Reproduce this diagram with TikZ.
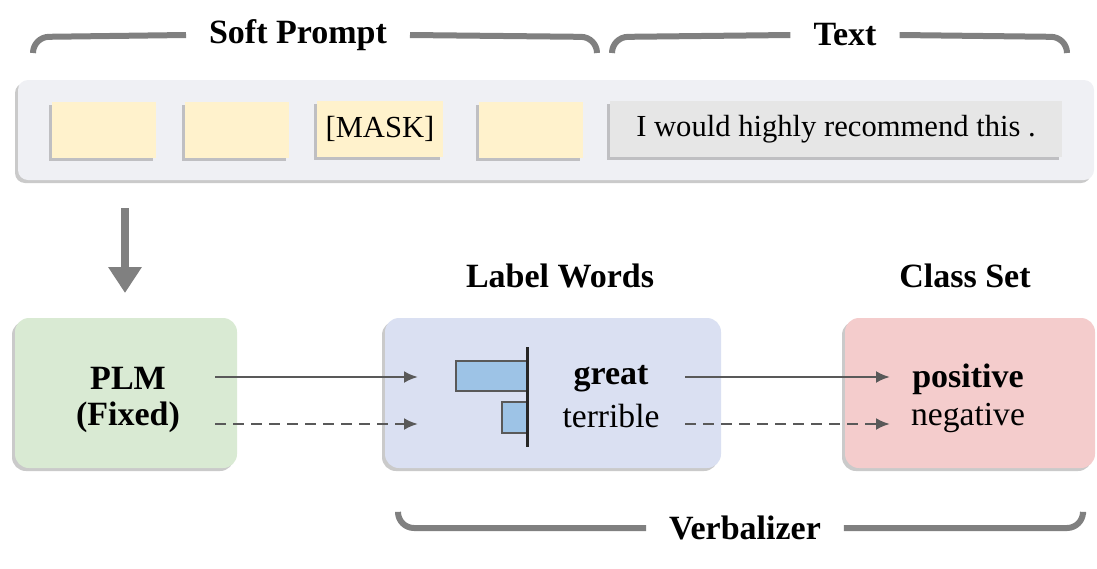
\documentclass[tikz,border=0pt]{standalone}
\usepackage{fontspec}
\setmainfont{Liberation Serif}
\usepackage{xcolor}
\usepackage{tikz}
\usetikzlibrary{calc, positioning, shadows, arrows.meta}

\definecolor{panelbg}{HTML}{EFF0F4}
\definecolor{tokfill}{HTML}{FFF2CC}
\definecolor{txtfill}{HTML}{E6E6E6}
\definecolor{plmfill}{HTML}{D9EAD3}
\definecolor{wordfill}{HTML}{DAE0F2}
\definecolor{classfill}{HTML}{F4CCCC}
\definecolor{barfill}{HTML}{9DC3E6}
\definecolor{linegray}{HTML}{595959}
\definecolor{bracegray}{HTML}{808080}

\begin{document}
\begin{tikzpicture}[>={Latex[length=7pt, width=6pt]}, x=0.5pt, y=-0.5pt,
    font=\fontsize{16.8}{19}\selectfont,
    shade/.style={drop shadow={shadow xshift=-1.5pt, shadow yshift=-1.5pt, opacity=0.35, fill=black!60}},
    panel/.style={fill=panelbg, rounded corners=5pt, shade},
    token/.style={fill=tokfill, minimum height=28pt, inner sep=0pt, shade, font=\fontsize{15.3}{18}\selectfont},
    bigbox/.style={rounded corners=7pt, minimum width=#1, minimum height=75pt, inner sep=0pt, shade},
    title/.style={font=\fontsize{17}{19}\selectfont\bfseries},
    brace/.style={bracegray, line width=3pt, rounded corners=8pt},
    link/.style={->, linegray, line width=1.3pt},
    dlink/.style={link, dash pattern=on 5.5pt off 3.5pt},
    bar/.style={fill=barfill, draw=linegray, line width=1.2pt}]
    \useasboundingbox (0,0) rectangle (1097,568);

    % Soft prompt and text
    \node[panel, minimum width=538pt, minimum height=50pt] (panel) at (556,130) {};
    \node[token, minimum width=52pt] (t1) at (104,130) {};
    \node[token, minimum width=52pt] (t2) at (237,130) {};
    \node[token, minimum width=63pt] (t3) at (380,129) {[MASK]};
    \node[token, minimum width=52pt] (t4) at (531,130) {};
    \node[token, fill=txtfill, minimum width=226pt] (sent) at (836,129) {I would highly recommend this .};

    % Braces on top
    \node[title] (softlbl) at (298,35) {Soft Prompt};
    \node[title] (textlbl) at (845,35) {Text};
    \draw[brace] (softlbl.west) ++(-8pt,0) -- (33,37) -- (33,53);
    \draw[brace] (softlbl.east) ++(8pt,0) -- (597,37) -- (597,53);
    \draw[brace] (textlbl.west) ++(-8pt,0) -- (612,37) -- (612,53);
    \draw[brace] (textlbl.east) ++(8pt,0) -- (1067,37) -- (1067,53);

    % Down arrow
    \coordinate (dtop) at (125,208);
    \coordinate (dbot) at (125,293);
    \draw[-{Triangle[width=16pt, length=13pt]}, bracegray, line width=4pt] (dtop) -- (dbot);

    % Bottom boxes
    \node[bigbox=111pt, fill=plmfill] (plm) at (126,393) {};
    \node[bigbox=168pt, fill=wordfill] (words) at (553,393) {};
    \node[bigbox=125pt, fill=classfill] (cls) at (970,393) {};

    \node[title] (plmtop) at (128,378) {PLM};
    \node[title] (plmbot) at (128,417) {(Fixed)};
    \node[title] (great) at (611,379) {great};
    \node (terrible) at (611,416) {terrible};
    \node[title] (pos) at (968,379) {positive};
    \node (neg) at (968,418) {negative};

    \node[title] (wordlbl) at (560,276) {Label Words};
    \node[title] (clslbl) at (965,276) {Class Set};

    % Bar chart
    \draw[bar] (456,361) rectangle (527,391);
    \draw[bar] (502,402) rectangle (527,433);
    \draw[line width=1.5pt, black!85] (527,347) -- (527,447);

    % Connectors
    \coordinate (a1) at (215,377);
    \coordinate (a2) at (215,424);
    \coordinate (b1) at (418,377);
    \coordinate (b2) at (418,424);
    \coordinate (c1) at (685,377);
    \coordinate (c2) at (685,424);
    \coordinate (d1) at (890,377);
    \coordinate (d2) at (890,424);
    \draw[link] (a1) -- (b1);
    \draw[dlink] (a2) -- (b2);
    \draw[link] (c1) -- (d1);
    \draw[dlink] (c2) -- (d2);

    % Verbalizer brace
    \node[title] (verb) at (745,528) {Verbalizer};
    \draw[brace] (verb.west) ++(-8pt,0) -- (398,528) -- (398,514);
    \draw[brace] (verb.east) ++(8pt,0) -- (1083,528) -- (1083,514);
\end{tikzpicture}
\end{document}
